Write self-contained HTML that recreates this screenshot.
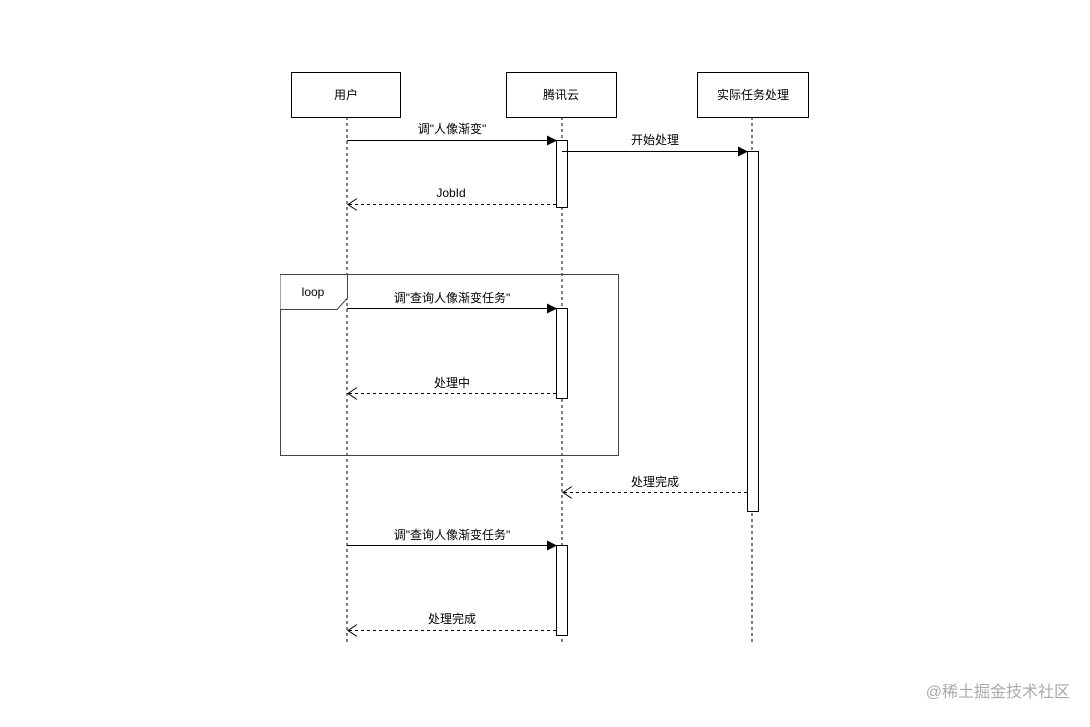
<!DOCTYPE html>
<html><head><meta charset="utf-8"><style>
body{margin:0;background:#fff;width:1090px;height:722px;overflow:hidden}
text{font-family:"Liberation Sans","Noto Sans CJK SC",sans-serif;font-size:12px;fill:#000}
</style></head><body>
<svg width="1090" height="722" xmlns="http://www.w3.org/2000/svg">
<defs>
<marker id="f" markerWidth="10" markerHeight="10" refX="9" refY="5" orient="auto" markerUnits="userSpaceOnUse"><path d="M0,0 L10,5 L0,10 Z" fill="#000"/></marker>
<marker id="o" markerWidth="12" markerHeight="12" refX="10" refY="6" orient="auto" markerUnits="userSpaceOnUse"><path d="M1,0 L10,6 L1,12" fill="none" stroke="#000"/></marker>
</defs>
<g stroke="#000" fill="#fff">
<line x1="347" y1="117" x2="347" y2="645" stroke-dasharray="3,3"/>
<line x1="562" y1="117" x2="562" y2="645" stroke-dasharray="3,3"/>
<line x1="752" y1="117" x2="752" y2="645" stroke-dasharray="3,3"/>
<rect x="291.5" y="72.5" width="109" height="45"/>
<rect x="506.5" y="72.5" width="110" height="45"/>
<rect x="697.5" y="72.5" width="111" height="45"/>
<rect x="280.5" y="274.5" width="338" height="181" fill="none" stroke="#444"/>
<path d="M280.5,274.5 H347.5 V298 L337,309.5 H280.5" fill="#fff" stroke="#444"/>
<rect x="556.5" y="140.5" width="11" height="67"/>
<rect x="747.5" y="151.5" width="11" height="360"/>
<rect x="556.5" y="308.5" width="11" height="90"/>
<rect x="556.5" y="545.5" width="11" height="90"/>
<line x1="347" y1="140.5" x2="556" y2="140.5" marker-end="url(#f)"/>
<line x1="562" y1="151.5" x2="747" y2="151.5" marker-end="url(#f)"/>
<line x1="556" y1="204.5" x2="348" y2="204.5" stroke-dasharray="3,3" marker-end="url(#o)"/>
<line x1="347" y1="308.5" x2="556" y2="308.5" marker-end="url(#f)"/>
<line x1="556" y1="393.5" x2="348" y2="393.5" stroke-dasharray="3,3" marker-end="url(#o)"/>
<line x1="747" y1="492.5" x2="563" y2="492.5" stroke-dasharray="3,3" marker-end="url(#o)"/>
<line x1="347" y1="545.5" x2="556" y2="545.5" marker-end="url(#f)"/>
<line x1="556" y1="630.5" x2="348" y2="630.5" stroke-dasharray="3,3" marker-end="url(#o)"/>
</g>
<g text-anchor="middle">
<text x="346" y="99">用户</text>
<text x="561" y="99">腾讯云</text>
<text x="753" y="99">实际任务处理</text>
<text x="452" y="133">调"人像渐变"</text>
<text x="655" y="144">开始处理</text>
<text x="451" y="197">JobId</text>
<text x="313" y="296">loop</text>
<text x="452" y="302">调"查询人像渐变任务"</text>
<text x="452" y="387">处理中</text>
<text x="655" y="486">处理完成</text>
<text x="452" y="539">调"查询人像渐变任务"</text>
<text x="452" y="623">处理完成</text>
</g>
<text x="1070" y="697" text-anchor="end" style="font-size:16px;fill:#aaa">@稀土掘金技术社区</text>
</svg>
</body></html>
